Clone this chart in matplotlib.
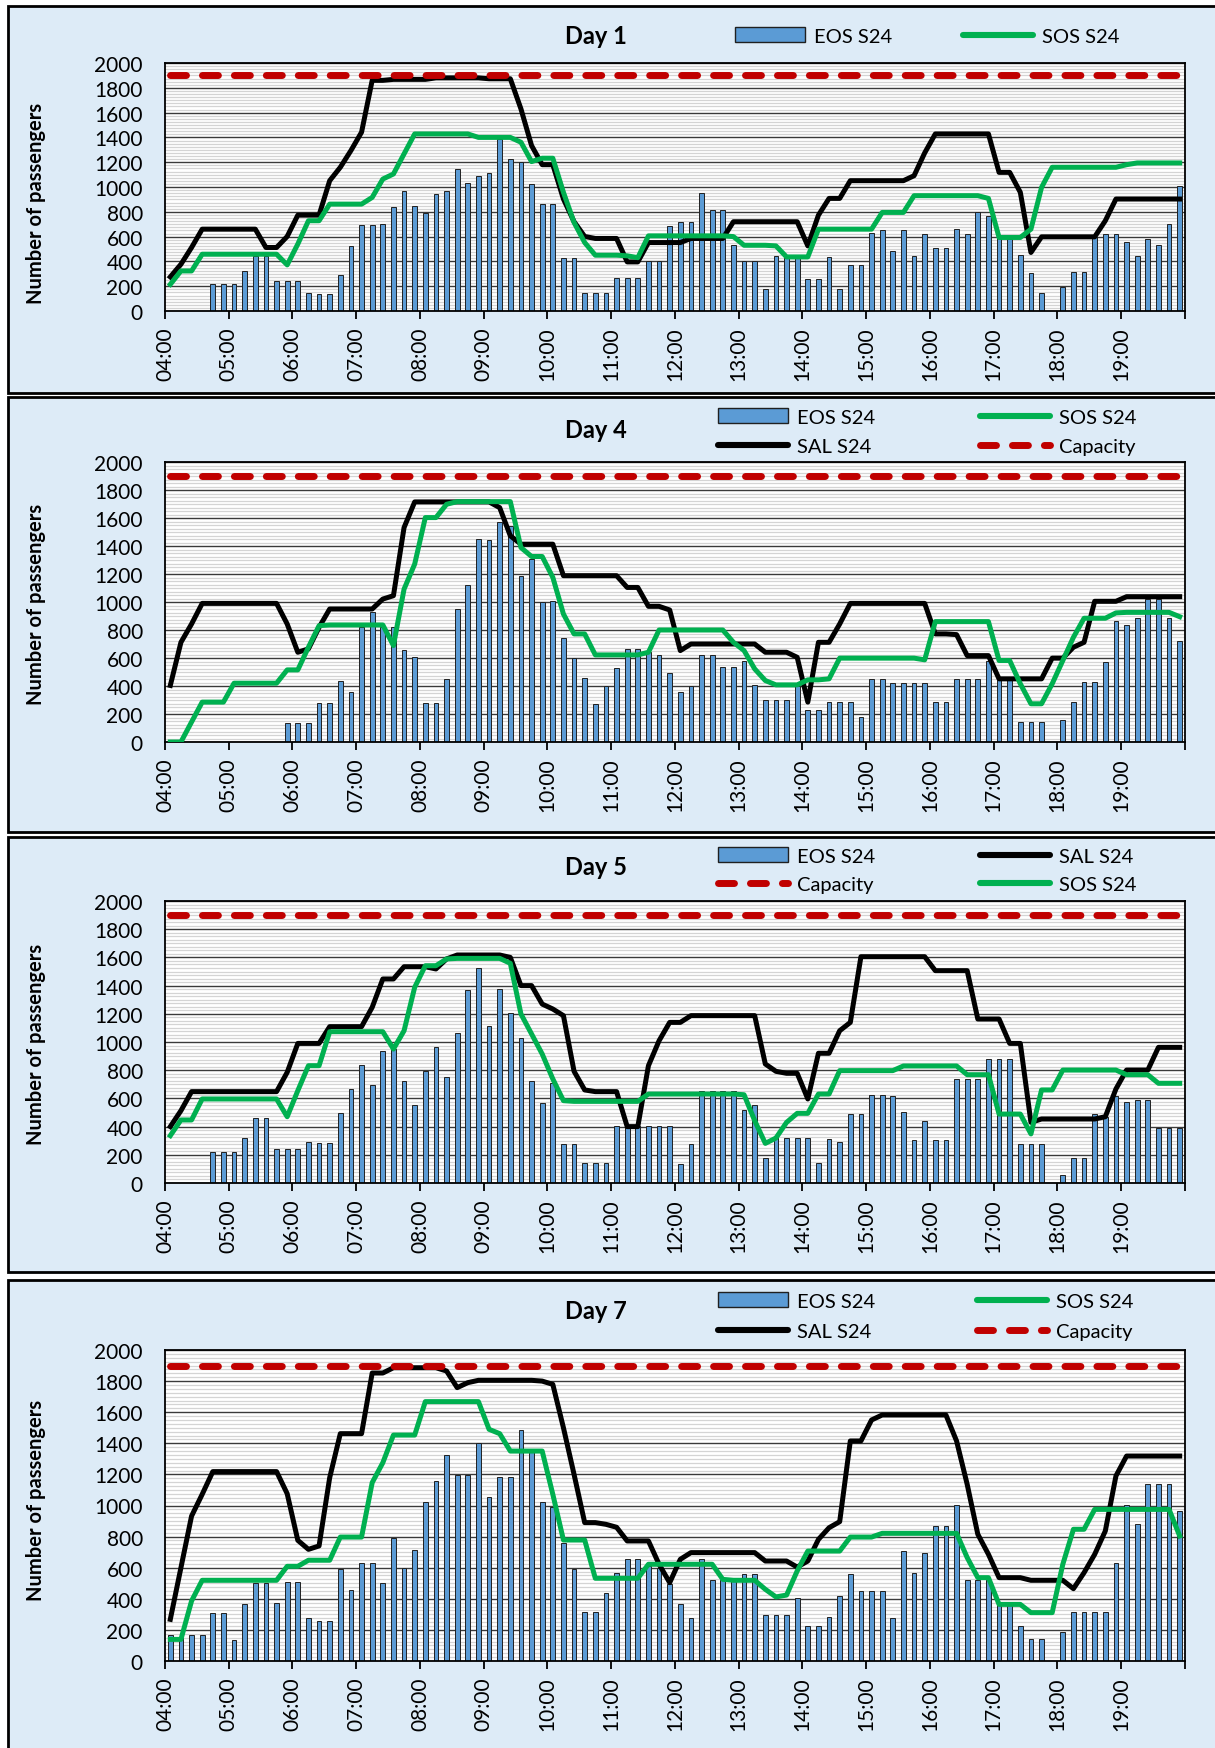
import matplotlib
matplotlib.use('Agg')
import matplotlib.pyplot as plt
from matplotlib.patches import Rectangle, Patch
from matplotlib.lines import Line2D
import numpy as np

plt.rcParams['font.family'] = ['Lato', 'DejaVu Sans']

# ---------------- data (10-minute slots from 04:00 to 19:50) ----------------
hour_labels = ['04:00', '05:00', '06:00', '07:00', '08:00', '09:00', '10:00', '11:00',
               '12:00', '13:00', '14:00', '15:00', '16:00', '17:00', '18:00', '19:00']
capacity = 1900

eos_d1 = [0, 0, 0, 0, 220, 220, 220, 320, 440, 440, 240, 240, 240, 145, 137, 137,
          294, 523, 695, 695, 700, 835, 970, 849, 792, 940, 970, 1145, 1032, 1086, 1110, 1388,
          1224, 1202, 1021, 860, 860, 428, 428, 145, 145, 145, 270, 270, 270, 404, 404, 682,
          720, 720, 949, 811, 811, 534, 404, 404, 180, 440, 430, 430, 261, 261, 434, 175,
          375, 375, 633, 652, 480, 650, 447, 617, 512, 512, 658, 625, 798, 768, 600, 580,
          453, 310, 143, 0, 191, 315, 315, 600, 625, 625, 560, 440, 577, 531, 698, 1010]
sos_d1 = [215, 323, 323, 458, 458, 458, 458, 458, 458, 458, 458, 372, 540, 728, 728, 862,
          862, 862, 862, 916, 1064, 1105, 1267, 1428, 1428, 1428, 1428, 1428, 1428, 1400, 1400, 1400,
          1400, 1361, 1205, 1232, 1232, 957, 714, 552, 450, 450, 450, 445, 430, 606, 606, 606,
          606, 606, 606, 606, 606, 600, 530, 530, 530, 525, 436, 436, 436, 660, 660, 660,
          660, 660, 660, 795, 795, 795, 930, 930, 930, 930, 930, 930, 930, 908, 593, 593,
          593, 660, 997, 1159, 1159, 1159, 1159, 1159, 1159, 1159, 1180, 1194, 1194, 1194, 1194, 1194]
sal_d1 = [275, 377, 512, 660, 660, 660, 660, 660, 660, 512, 512, 601, 773, 773, 773, 1051,
          1159, 1294, 1442, 1860, 1860, 1868, 1868, 1868, 1868, 1880, 1880, 1880, 1880, 1880, 1873, 1873,
          1873, 1630, 1334, 1180, 1180, 903, 720, 601, 585, 585, 585, 396, 396, 552, 552, 552,
          552, 585, 585, 585, 585, 720, 720, 720, 720, 720, 720, 720, 525, 773, 908, 908,
          1051, 1051, 1051, 1051, 1051, 1051, 1091, 1275, 1428, 1428, 1428, 1428, 1428, 1428, 1118, 1118,
          957, 472, 598, 598, 598, 598, 598, 598, 728, 903, 903, 903, 903, 903, 903, 903]

eos_d4 = [0, 0, 0, 0, 0, 0, 0, 0, 0, 0, 0, 138, 138, 138, 280, 280,
          439, 356, 820, 930, 820, 820, 658, 606, 278, 278, 449, 950, 1121, 1449, 1442, 1572,
          1544, 1185, 1310, 998, 1007, 741, 599, 456, 273, 399, 527, 663, 663, 640, 618, 494,
          356, 397, 620, 620, 534, 534, 580, 408, 302, 302, 302, 400, 230, 230, 285, 285,
          285, 178, 451, 451, 420, 420, 420, 420, 285, 285, 451, 451, 451, 580, 440, 440,
          143, 143, 143, 0, 159, 285, 428, 428, 570, 867, 838, 884, 1021, 1021, 884, 720]
sos_d4 = [0, 0, 143, 285, 285, 285, 420, 420, 420, 420, 420, 515, 515, 677, 831, 836,
          836, 836, 836, 836, 836, 689, 1092, 1271, 1603, 1603, 1698, 1717, 1717, 1717, 1717, 1717,
          1717, 1389, 1325, 1325, 1176, 914, 772, 772, 622, 622, 622, 622, 622, 641, 800, 800,
          800, 800, 800, 800, 800, 712, 653, 522, 439, 408, 408, 408, 444, 444, 451, 599,
          599, 599, 599, 599, 599, 599, 599, 587, 860, 860, 860, 860, 860, 860, 582, 582,
          416, 273, 273, 416, 582, 748, 884, 884, 884, 922, 926, 926, 926, 926, 926, 895]
sal_d4 = [404, 712, 843, 990, 990, 990, 990, 990, 990, 990, 990, 843, 641, 665, 819, 950,
          950, 950, 950, 950, 1021, 1045, 1532, 1715, 1715, 1715, 1715, 1715, 1715, 1715, 1715, 1674,
          1473, 1413, 1413, 1413, 1413, 1188, 1188, 1188, 1188, 1188, 1188, 1104, 1104, 969, 969, 943,
          653, 700, 700, 700, 700, 700, 700, 700, 641, 641, 641, 605, 285, 712, 712, 843,
          990, 990, 990, 990, 990, 990, 990, 990, 772, 772, 767, 617, 617, 617, 451, 451,
          451, 451, 451, 599, 599, 677, 712, 1005, 1005, 1005, 1038, 1038, 1038, 1038, 1038, 1038]

eos_d5 = [0, 0, 0, 0, 217, 217, 217, 319, 459, 459, 241, 241, 241, 288, 281, 281,
          494, 667, 839, 695, 939, 950, 726, 553, 792, 962, 754, 1064, 1369, 1525, 1111, 1373,
          1203, 1026, 726, 567, 710, 277, 277, 139, 139, 139, 402, 402, 402, 402, 402, 402,
          132, 277, 652, 652, 652, 652, 518, 556, 180, 330, 319, 319, 319, 139, 314, 288,
          492, 492, 624, 624, 619, 506, 305, 440, 305, 305, 735, 735, 735, 877, 877, 877,
          277, 277, 277, 0, 57, 180, 180, 489, 470, 619, 577, 589, 589, 390, 390, 390]
sos_d5 = [336, 447, 447, 596, 596, 596, 596, 596, 596, 596, 596, 470, 655, 832, 832, 1073,
          1073, 1073, 1073, 1073, 1073, 950, 1080, 1388, 1541, 1541, 1589, 1593, 1593, 1593, 1593, 1593,
          1558, 1199, 1057, 915, 738, 584, 579, 579, 579, 579, 579, 579, 579, 631, 631, 631,
          631, 631, 631, 631, 631, 631, 626, 442, 281, 319, 430, 494, 494, 631, 631, 797,
          797, 797, 797, 797, 797, 830, 830, 830, 830, 830, 830, 768, 768, 768, 489, 489,
          489, 348, 660, 660, 801, 801, 801, 801, 801, 801, 768, 768, 768, 707, 707, 707]
sal_d5 = [400, 513, 648, 648, 648, 648, 648, 648, 648, 648, 648, 785, 990, 990, 990, 1109,
          1109, 1109, 1109, 1246, 1447, 1447, 1534, 1534, 1534, 1518, 1589, 1617, 1617, 1617, 1617, 1617,
          1600, 1400, 1400, 1269, 1234, 1187, 792, 660, 648, 648, 648, 400, 400, 832, 1009, 1139,
          1139, 1187, 1187, 1187, 1187, 1187, 1187, 1187, 844, 792, 778, 778, 596, 920, 920, 1080,
          1139, 1605, 1605, 1605, 1605, 1605, 1605, 1605, 1506, 1506, 1506, 1506, 1163, 1163, 1163, 990,
          990, 430, 454, 454, 454, 454, 454, 454, 470, 667, 801, 801, 801, 962, 962, 962]

eos_d7 = [167, 150, 167, 167, 309, 309, 137, 369, 500, 500, 371, 508, 508, 277, 257, 257,
          594, 457, 628, 628, 504, 793, 596, 716, 1022, 1158, 1325, 1196, 1196, 1400, 1057, 1185,
          1185, 1483, 1350, 1022, 990, 760, 594, 315, 315, 439, 568, 658, 658, 610, 600, 493,
          364, 279, 654, 521, 520, 520, 557, 557, 296, 296, 296, 407, 227, 227, 283, 418,
          559, 450, 450, 450, 279, 705, 564, 695, 866, 866, 1001, 523, 520, 520, 370, 370,
          227, 141, 141, 0, 189, 313, 313, 313, 313, 630, 1005, 883, 1140, 1140, 1140, 967]
sos_d7 = [139, 139, 386, 519, 519, 519, 519, 519, 519, 519, 519, 609, 609, 648, 648, 648,
          797, 797, 797, 1147, 1275, 1453, 1453, 1453, 1668, 1668, 1668, 1668, 1668, 1668, 1490, 1462,
          1350, 1350, 1350, 1350, 1072, 778, 778, 778, 532, 532, 532, 532, 532, 622, 622, 622,
          622, 622, 622, 622, 525, 519, 519, 519, 461, 412, 424, 579, 707, 707, 707, 707,
          797, 797, 797, 821, 821, 821, 821, 821, 821, 821, 821, 665, 536, 536, 364, 364,
          364, 311, 311, 311, 622, 847, 847, 975, 975, 975, 975, 975, 975, 975, 975, 804]
sal_d7 = [268, 600, 932, 1072, 1218, 1218, 1218, 1218, 1218, 1218, 1218, 1076, 776, 718, 740, 1179,
          1462, 1462, 1462, 1852, 1852, 1886, 1886, 1886, 1886, 1886, 1865, 1758, 1790, 1805, 1805, 1805,
          1805, 1805, 1805, 1800, 1779, 1500, 1200, 890, 890, 879, 860, 772, 772, 772, 622, 504,
          654, 697, 697, 697, 697, 697, 697, 697, 643, 643, 643, 604, 643, 782, 857, 896,
          1415, 1415, 1550, 1582, 1582, 1582, 1582, 1582, 1582, 1582, 1415, 1136, 815, 686, 536, 536,
          536, 519, 519, 519, 519, 465, 568, 686, 836, 1190, 1318, 1318, 1318, 1318, 1318, 1318]

# ---------------- styles ----------------
C_BAR = '#5B9BD5'
C_SOS = '#00B050'
C_SAL = '#000000'
C_CAP = '#C00000'
C_PANEL = '#DDEBF7'
W, H = 1215, 1749


def fx(px):
    return px / W


def fy(py):
    return 1 - py / H


fig = plt.figure(figsize=(W / 100, H / 100), dpi=100)
fig.patch.set_facecolor('white')

# panel: (day, eos, sos, sal, panel top/bottom, axes top/bottom, title y, ylabel y, legend entries)
panels = [
    ('Day 1', eos_d1, sos_d1, sal_d1, (7, 394), (64, 312), 37, 203,
     [('EOS', 735, 37), ('SOS', 963, 37)]),
    ('Day 4', eos_d4, sos_d4, sal_d4, (398, 833), (463, 743), 430, 604,
     [('EOS', 718, 418), ('SOS', 980, 418), ('SAL', 718, 447), ('CAP', 980, 447)]),
    ('Day 5', eos_d5, sos_d5, sal_d5, (838, 1273), (902, 1184), 868, 1044,
     [('EOS', 718, 857), ('SAL', 980, 857), ('CAP', 718, 885), ('SOS', 980, 885)]),
    ('Day 7', eos_d7, sos_d7, sal_d7, (1281, 1765), (1351, 1662), 1312, 1500,
     [('EOS', 718, 1302), ('SOS', 977, 1302), ('SAL', 718, 1332), ('CAP', 977, 1332)]),
]

cap_dash = (0, (2.3, 2.3))
handles = {
    'EOS': (Patch(facecolor=C_BAR, edgecolor='#202020', lw=1.0), 'EOS S24'),
    'SOS': (Line2D([], [], color=C_SOS, lw=4.4, solid_capstyle='round'), 'SOS S24'),
    'SAL': (Line2D([], [], color=C_SAL, lw=4.4, solid_capstyle='round'), 'SAL S24'),
    'CAP': (Line2D([], [], color=C_CAP, lw=5, linestyle=cap_dash, dash_capstyle='round'), 'Capacity'),
}

for day, eos, sos, sal, (ptop, pbot), (atop, abot), ty, ly, leg in panels:
    fig.patches.append(Rectangle((fx(8), fy(pbot)), fx(1240) - fx(8), fy(ptop) - fy(pbot),
                                 transform=fig.transFigure, facecolor=C_PANEL,
                                 edgecolor='black', lw=2, zorder=-10))

    ax = fig.add_axes([fx(165), fy(abot), fx(1020), (abot - atop) / H])
    ax.set_facecolor('white')
    x = np.arange(len(eos)) + 0.5

    ax.bar(x, eos, width=0.45, color=C_BAR, edgecolor='#202020', lw=0.7, zorder=2)
    ax.plot(x, sal, color=C_SAL, lw=3.6, solid_joinstyle='round', zorder=3)
    ax.plot(x, sos, color=C_SOS, lw=3.6, solid_joinstyle='round', zorder=4)
    ax.plot(x, [capacity] * len(x), color=C_CAP, lw=5, linestyle=cap_dash,
            dash_capstyle='round', zorder=5)

    ax.set_xlim(0, 96)
    ax.set_ylim(0, 2000)
    ax.set_yticks(np.arange(0, 2001, 200))
    ax.set_yticks(np.arange(0, 2001, 25), minor=True)
    ax.grid(axis='y', which='major', color='#3a3a3a', lw=1.0, zorder=1)
    ax.grid(axis='y', which='minor', color='#d4d4d4', lw=0.9, zorder=0.5)
    ax.set_axisbelow(True)

    ax.set_xticks(np.arange(0, 97, 6))
    ax.set_xticklabels(hour_labels + [''], rotation=90, fontsize=15)
    ax.tick_params(axis='x', direction='out', length=6, width=1.3, pad=5)
    ax.tick_params(axis='y', which='both', length=0, pad=16, labelsize=15)
    for s in ax.spines.values():
        s.set_color('black')
        s.set_linewidth(1.3)

    fig.text(fx(596), fy(ty), day, ha='center', va='center', fontsize=17, fontweight='bold')
    fig.text(fx(36), fy(ly), 'Number of passengers', ha='center', va='center',
             rotation=90, fontsize=14.5, fontweight='bold')

    for key, lx, lyy in leg:
        h, lab = handles[key]
        fig.legend([h], [lab], loc='center left', bbox_to_anchor=(fx(lx), fy(lyy)),
                   frameon=False, borderpad=0, borderaxespad=0, handlelength=3.5,
                   handletextpad=0.4, fontsize=14.5)

fig.savefig('out.png', dpi=100)
